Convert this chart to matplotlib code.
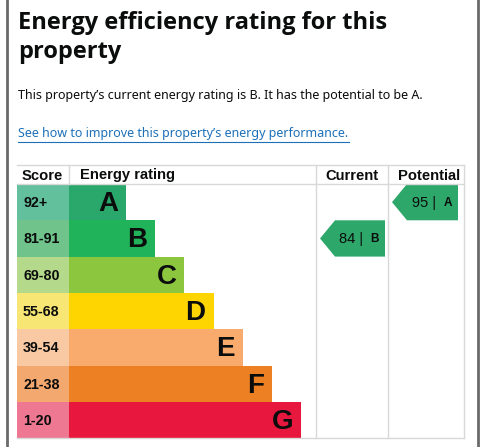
"""EPC energy efficiency rating chart
"""
import matplotlib
matplotlib.use("Agg")
from matplotlib import pyplot as plt
from matplotlib.patches import Rectangle, Polygon

# data
bands = ['A', 'B', 'C', 'D', 'E', 'F', 'G']
score_ranges = ['92+', '81-91', '69-80', '55-68', '39-54', '21-38', '1-20']
current_score = 84
current_band = 'B'
potential_score = 95
potential_band = 'A'

title_lines = ["Energy efficiency rating for this", "property"]
summary = "This property\u2019s current energy rating is B. It has the potential to be A."
link_text = "See how to improve this property\u2019s energy performance."
headers = ['Score', 'Energy rating', 'Current', 'Potential']

bar_colors = ['#2aa86c', '#20b35a', '#8cc63f', '#fed500', '#f8ab6c', '#ee8024', '#e8173d']
score_colors = ['#62c09c', '#6fc38b', '#b4d98a', '#f7e673', '#f9c9a3', '#f3a86f', '#ee7791']
arrow_color = '#2ea86a'
text_color = '#0b0c0c'
grid_color = '#d8d8d8'

W, H = 483, 447
fig = plt.figure(figsize=(W / 100, H / 100), dpi=100)
ax = fig.add_axes([0, 0, 1, 1])
ax.set_xlim(0, W)
ax.set_ylim(H, 0)
ax.axis('off')

# outer frame (left/right only)
ax.plot([7, 7], [0, H], color='#6a6a6a', lw=2)
ax.plot([478, 478], [0, H], color='#6a6a6a', lw=2)

for k, line in enumerate(title_lines):
    ax.text(18, 29 + k * 29, line, fontsize=17, fontweight='bold',
            family='Open Sans', color=text_color, va='baseline')
ax.text(18, 96, summary, fontsize=9, family='Noto Sans', color=text_color, va='center')
ax.text(18, 134, link_text, fontsize=9, family='Noto Sans', color='#1d70b8', va='center')
ax.plot([18, 349], [142, 142], color='#1d70b8', lw=0.8)

# table layout
left, score_right, rating_right, current_right, right = 17, 69, 316, 388, 464
top, head_bottom, row_h = 165, 184, 36.3
bottom = head_bottom + row_h * len(bands)
bar_step = 29.2
first_bar_right = 126

for y in [top, head_bottom, bottom]:
    ax.plot([left, right], [y, y], color=grid_color, lw=1)
for x in [rating_right, current_right, right]:
    ax.plot([x, x], [top, bottom], color=grid_color, lw=1)
ax.plot([score_right, score_right], [top, head_bottom], color=grid_color, lw=1)

hy = (top + head_bottom) / 2 + 1
ax.text(22, hy, headers[0], fontsize=10.6, fontweight='bold', family='Liberation Sans',
        color=text_color, va='center')
ax.text(80, hy, headers[1], fontsize=10.6, fontweight='bold', family='Liberation Sans',
        color=text_color, va='center')
ax.text(379, hy, headers[2], fontsize=10.6, fontweight='bold', family='Liberation Sans',
        color=text_color, va='center', ha='right')
ax.text(460, hy, headers[3], fontsize=10.6, fontweight='bold', family='Liberation Sans',
        color=text_color, va='center', ha='right')

for i, (band, rng) in enumerate(zip(bands, score_ranges)):
    y0 = head_bottom + i * row_h
    bar_right = first_bar_right + i * bar_step
    ax.add_patch(Rectangle((left, y0), score_right - left, row_h, color=score_colors[i], lw=0))
    ax.add_patch(Rectangle((score_right, y0), bar_right - score_right, row_h,
                           color=bar_colors[i], lw=0))
    ax.text(23, y0 + row_h / 2 + 1, rng, fontsize=10.3, fontweight='bold',
            family='Liberation Sans', color=text_color, va='center')
    ax.text(bar_right - 8, y0 + row_h / 2 + 2, band, fontsize=20, fontweight='bold',
            family='Liberation Sans', color=text_color, va='center', ha='right')


def draw_arrow(x_tip, x_end, band, score):
    i = bands.index(band)
    y0 = head_bottom + i * row_h
    y1 = y0 + row_h
    ym = (y0 + y1) / 2
    pts = [(x_tip, ym), (x_tip + 15, y0), (x_end, y0), (x_end, y1), (x_tip + 15, y1)]
    ax.add_patch(Polygon(pts, closed=True, color=arrow_color, lw=0))
    ax.text(x_end - 18, ym + 1, '%d | ' % score, fontsize=10.5, family='Liberation Sans',
            color=text_color, va='center', ha='right')
    ax.text(x_end - 6, ym + 1, band, fontsize=8.5, fontweight='bold', family='Liberation Sans',
            color=text_color, va='center', ha='right')


draw_arrow(320, 385, current_band, current_score)
draw_arrow(392, 458, potential_band, potential_score)

fig.savefig('out.png', dpi=100)
